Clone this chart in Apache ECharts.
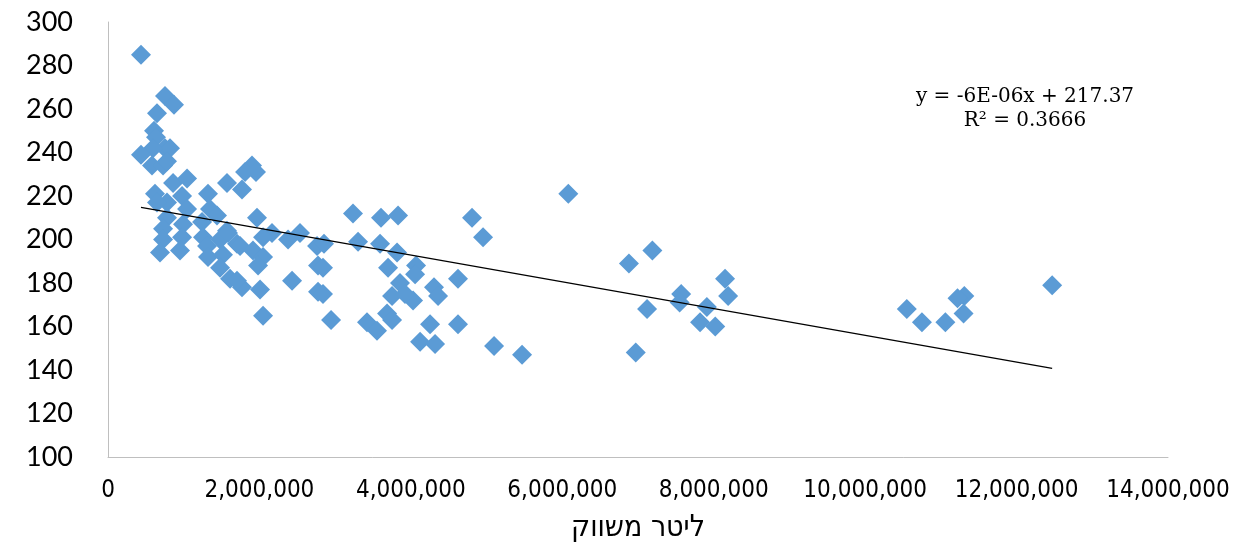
<!DOCTYPE html>
<html>
<head>
<meta charset="utf-8">
<script src="https://cdn.jsdelivr.net/npm/echarts@6/dist/echarts.min.js"></script>
<style>
html,body{margin:0;padding:0;background:#fff;}
#chart{width:1253px;height:551px;}
</style>
</head>
<body>
<div id="chart"></div>
<script>
// Liters marketed (x) and value (y)
const xValues = [436000,753000,872000,647000,608000,634000,753000,819000,594000,436000,
  581000,727000,779000,1902000,1810000,1955000,1572000,1770000,859000,1044000,
  1321000,621000,978000,779000,647000,1347000,779000,1044000,727000,991000,
  1242000,1440000,1572000,1968000,727000,978000,687000,951000,1255000,1308000,
  1321000,1480000,1519000,1704000,1585000,2166000,2048000,2536000,2378000,1744000,
  1915000,2048000,1982000,1480000,1612000,1770000,1704000,2008000,2431000,2048000,
  2774000,2774000,2761000,
  3236000,3606000,3831000,4808000,4954000,3303000,2853000,3593000,3818000,3699000,
  4069000,2840000,4623000,3857000,4306000,2840000,3752000,4359000,4029000,2946000,
  3421000,3553000,3686000,3752000,4254000,4623000,4122000,4320000,5099000,5469000,
  3923000,4056000,
  12470000,11310000,11220000,11300000,11060000,10750000,10550000,8150000,8190000,7910000,
  8020000,7820000,7570000,7550000,7190000,7120000,6880000,6970000,6080000];
const yValues = [285,266,262,258,250,247,242,242,242,239,
  234,234,236,234,231,231,226,223,226,228,
  221,221,220,217,217,214,210,214,205,207,
  208,211,204,210,200,201,194,195,201,197,
  192,200,193,198,203,203,201,203,200,197,
  195,192,188,187,182,178,181,177,181,165,
  188,176,197,
  212,210,211,210,201,199,198,198,194,187,
  188,187,182,180,178,175,174,174,172,163,
  162,158,166,163,161,161,153,152,151,147,
  175,184,
  179,174,173,166,162,162,168,182,174,169,
  160,162,175,171,195,168,189,148,221];
const trendSlope = -6.15e-6;
const trendIntercept = 217.45;
const equationLines = ['y = -6E-06x + 217.37', 'R² = 0.3666'];
const xAxisTitle = 'ליטר משווק';

const points = xValues.map((x, i) => [x, yValues[i]]);
const xMin = Math.min(...xValues), xMax = Math.max(...xValues);
const trend = [[xMin, trendIntercept + trendSlope * xMin], [xMax, trendIntercept + trendSlope * xMax]];

const chart = echarts.init(document.getElementById('chart'), null, {renderer: 'canvas'});
chart.setOption({
  animation: false,
  backgroundColor: '#ffffff',
  grid: {left: 108, right: 85, top: 22, bottom: 94},
  xAxis: {
    type: 'value', min: 0, max: 14000000, interval: 2000000,
    name: xAxisTitle, nameLocation: 'middle', nameGap: 56,
    nameTextStyle: {fontFamily: 'DejaVu Sans Condensed', fontSize: 30, color: '#000'},
    axisLine: {show: true, lineStyle: {color: '#BFBFBF', width: 1}},
    axisTick: {show: false},
    splitLine: {show: false},
    axisLabel: {
      margin: 22, color: '#000', fontFamily: 'DejaVu Sans Condensed', fontSize: 24,
      formatter: v => v.toLocaleString('en-US')
    }
  },
  yAxis: {
    type: 'value', min: 100, max: 300, interval: 20,
    axisLine: {show: true, lineStyle: {color: '#BFBFBF', width: 1}},
    axisTick: {show: false},
    splitLine: {show: false},
    axisLabel: {margin: 35, color: '#000', fontFamily: 'Lato', fontSize: 27}
  },
  series: [
    {
      type: 'scatter', data: points, symbol: 'diamond', symbolSize: 20,
      itemStyle: {color: '#5B9BD5', opacity: 1}
    },
    {
      type: 'line', data: trend, symbol: 'none', silent: true,
      lineStyle: {color: '#000', width: 1.2}
    }
  ],
  graphic: [
    {type: 'text', x: 1025, y: 97, style: {text: equationLines[0], fontFamily: 'DejaVu Serif', fontSize: 20, fill: '#000', align: 'center', verticalAlign: 'middle'}},
    {type: 'text', x: 1025, y: 121, style: {text: equationLines[1], fontFamily: 'DejaVu Serif', fontSize: 20, fill: '#000', align: 'center', verticalAlign: 'middle'}}
  ]
});
</script>
</body>
</html>
